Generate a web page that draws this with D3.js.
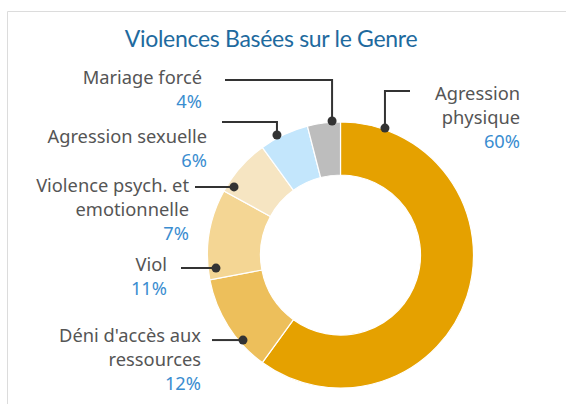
<!DOCTYPE html>
<html><head><meta charset="utf-8">
<script src="https://cdn.jsdelivr.net/npm/d3@7"></script>
<style>html,body{margin:0;padding:0;background:#fff;}svg{display:block;}</style>
</head><body>
<svg id="chart" width="566" height="404"></svg>
<script>
const title = "Violences Basées sur le Genre";
const categories = ["Agression physique", "Déni d'accès aux ressources", "Viol", "Violence psych. et emotionnelle", "Agression sexuelle", "Mariage forcé"];
const values = [60, 12, 11, 7, 6, 4];
const colors = ["#E5A100", "#EDBF5B", "#F4D694", "#F6E5C2", "#C3E6FC", "#BDBDBD"];

// label layout (presentation only): text anchor, leader dot angle (deg) / radius, elbow, line start
const labelLines = [["Agression", "physique"], ["Déni d'accès aux", "ressources"], ["Viol"], ["Violence psych. et", "emotionnelle"], ["Agression sexuelle"], ["Mariage forcé"]];
const labelLayout = [
  {tx: 520, ty: 100, dotAngle: 19.3, dotR: 134.5, elbowY: 91, lineEnd: 410},
  {tx: 201, ty: 342, dotAngle: 228.9, dotR: 129.4, elbowY: null, lineEnd: 212},
  {tx: 167, ty: 271, dotAngle: 264, dotR: 125.2, elbowY: null, lineEnd: 181},
  {tx: 189, ty: 192, dotAngle: 302.6, dotR: 126.4, elbowY: null, lineEnd: 195},
  {tx: 207, ty: 143, dotAngle: 332.1, dotR: 135.8, elbowY: 122, lineEnd: 222},
  {tx: 202, ty: 84, dotAngle: 356.4, dotR: 134.3, elbowY: 80, lineEnd: 225}
];

const svg = d3.select("#chart");
const W = 566, H = 404;
const cx = 340.5, cy = 255, R = 133, r0 = 80;

// card border
svg.append("path").attr("d", `M7.5,${H} L7.5,11.5 L${W},11.5`).attr("fill", "none").attr("stroke", "#dcdcdc").attr("stroke-width", 1);

svg.append("text").attr("x", 271).attr("y", 47).attr("text-anchor", "middle")
  .attr("font-family", "Lato, 'Open Sans', sans-serif").attr("font-size", 23).attr("fill", "#1E6A9E")
  .attr("letter-spacing", -0.3)
  .text(title);

const data = categories.map((c, i) => ({cat: c, value: values[i], color: colors[i], i}));
const pie = d3.pie().value(d => d.value).sort(null);
const arcs = pie(data);
const arc = d3.arc().innerRadius(r0).outerRadius(R);

const g = svg.append("g").attr("transform", `translate(${cx},${cy})`);
g.selectAll("path.slice").data(arcs).join("path").attr("class", "slice")
  .attr("d", arc).attr("fill", d => d.data.color)
  .attr("stroke", "#fff").attr("stroke-width", 1.2);

// leaders and labels
arcs.forEach((a, i) => {
  const L = labelLayout[i];
  const ang = L.dotAngle * Math.PI / 180;
  const dx = cx + L.dotR * Math.sin(ang), dy = cy - L.dotR * Math.cos(ang);
  let pts;
  if (L.elbowY != null) {
    pts = [[L.lineEnd, L.elbowY], [dx, L.elbowY], [dx, dy]];
  } else {
    pts = [[L.lineEnd, dy], [dx, dy]];
  }
  svg.append("path").attr("d", d3.line()(pts)).attr("fill", "none")
    .attr("stroke", "#333").attr("stroke-width", 2);
  svg.append("circle").attr("cx", dx).attr("cy", dy).attr("r", 4.5).attr("fill", "#333");

  const t = svg.append("text").attr("text-anchor", "end")
    .attr("font-family", "'Noto Sans', 'Open Sans', sans-serif").attr("font-size", 18.3);
  labelLines[i].forEach((ln, k) => {
    t.append("tspan").attr("x", L.tx).attr("y", L.ty + k * 24).attr("fill", "#555").text(ln);
  });
  t.append("tspan").attr("x", L.tx).attr("y", L.ty + labelLines[i].length * 24).attr("fill", "#3A8DD0").text(a.data.value + "%");
});
</script>
</body></html>
